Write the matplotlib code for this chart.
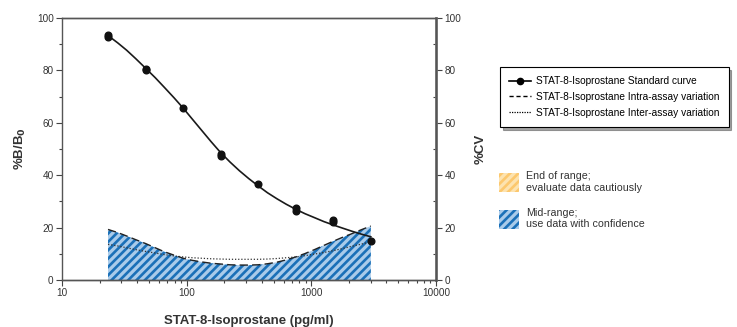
import matplotlib
matplotlib.use("Agg")
import matplotlib.pyplot as plt
import matplotlib.patches as mpatches
from matplotlib.lines import Line2D
from matplotlib.ticker import MultipleLocator, LogLocator, NullFormatter

plt.rcParams['font.family'] = ['Liberation Sans', 'DejaVu Sans']
plt.rcParams['hatch.linewidth'] = 1.9

# standard points (duplicates)
std_x = [23.4, 23.4, 46.9, 46.9, 93.8, 187.5, 187.5, 375, 750, 750, 1500, 1500, 3000]
std_y = [93.6, 92.8, 80.7, 80.3, 65.8, 48.2, 47.2, 36.5, 27.6, 26.4, 23.0, 22.0, 15.0]

# fitted standard curve and %CV curves
curve_x = [23.4, 28, 33, 39, 46.9, 56, 66, 79, 93.8, 111, 132, 157, 187.5, 223, 265,
           315, 375, 445, 530, 630, 750, 890, 1060, 1260, 1500, 1780, 2120, 2520, 3000]
curve_y = [93.3, 90.5, 87.7, 84.5, 80.8, 77.2, 73.6, 69.6, 65.6, 61.4, 57.1, 52.8, 48.6,
           45.0, 41.7, 38.7, 35.9, 33.3, 31.0, 28.9, 27.0, 25.3, 23.8, 22.3, 21.0, 19.8,
           18.6, 17.5, 16.5]
intra_cv = [19.3, 18.1, 16.8, 15.4, 13.9, 12.3, 10.8, 9.5, 8.3, 7.5, 6.9, 6.4, 6.1, 5.8,
            5.7, 5.7, 5.8, 6.2, 6.8, 7.7, 8.8, 10.1, 11.6, 13.2, 14.8, 16.3, 17.7, 19.2, 20.6]
inter_cv = [13.6, 13.0, 12.3, 11.6, 10.9, 10.3, 9.7, 9.2, 8.8, 8.5, 8.3, 8.1, 8.0, 7.9,
            7.9, 7.9, 7.9, 8.0, 8.2, 8.5, 8.8, 9.3, 9.9, 10.5, 11.2, 12.0, 12.9, 13.7, 14.6]

fig = plt.figure(figsize=(7.37, 3.27), dpi=100)
ax = fig.add_axes([62/737, 1-280/327, 374/737, 262/327])
ax2 = ax.twinx()

# shaded mid-range area under the intra-assay curve
ax2.fill_between(curve_x, 0, intra_cv, facecolor='#a9cbea', edgecolor='#1a70b8',
                 hatch='////', linewidth=0, zorder=1)
ax2.plot(curve_x, intra_cv, color='#222222', lw=1.0, ls=(0, (6, 3)), zorder=3)
ax2.plot(curve_x, inter_cv, color='#333333', lw=0.9, ls=(0, (1, 1.5)), zorder=3)

ax.plot(curve_x, curve_y, color='#1a1a1a', lw=1.2, zorder=4)
ax.plot(std_x, std_y, 'o', color='#111111', ms=4.8, zorder=5)
ax.set_zorder(ax2.get_zorder() + 1)
ax.patch.set_visible(False)

ax.set_xscale('log')
ax.set_xlim(10, 10000)
ax.set_ylim(0, 100)
ax2.set_ylim(0, 100)
ax.xaxis.set_minor_locator(LogLocator(base=10, subs=range(2, 10)))
ax.xaxis.set_minor_formatter(NullFormatter())
ax.set_xticks([10, 100, 1000, 10000])
ax.set_xticklabels(['10', '100', '1000', '10000'])
for a in (ax, ax2):
    a.yaxis.set_major_locator(MultipleLocator(20))
    a.yaxis.set_minor_locator(MultipleLocator(10))
    a.tick_params(axis='both', which='major', labelsize=7.2, length=4, width=0.8,
                  color='#444444', labelcolor='#333333', pad=2)
    a.tick_params(axis='both', which='minor', length=2, width=0.8, color='#444444')
    for s in a.spines.values():
        s.set_color('#555555')
        s.set_linewidth(1.0)
ax2.spines['right'].set_linewidth(2.0)
ax2.spines['right'].set_color('#707070')
ax2.spines['left'].set_visible(False)
ax2.tick_params(axis='y', which='minor', direction='in')

ax.set_xlabel('STAT-8-Isoprostane (pg/ml)', fontsize=9.5, fontweight='bold',
              color='#333333', labelpad=12)
ax.set_ylabel('%B/B$_\\mathbf{0}$', fontsize=9.5, fontweight='bold', color='#333333',
              labelpad=6)
ax2.set_ylabel('%CV', fontsize=9.5, fontweight='bold', color='#333333', labelpad=10)

# line legend
handles = [
    Line2D([], [], color='black', lw=1.2, marker='o', ms=4.5),
    Line2D([], [], color='black', lw=1.0, ls=(0, (3, 2))),
    Line2D([], [], color='black', lw=0.9, ls=(0, (1, 1))),
]
labels = ['STAT-8-Isoprostane Standard curve',
          'STAT-8-Isoprostane Intra-assay variation',
          'STAT-8-Isoprostane Inter-assay variation']
leg = fig.legend(handles, labels, loc='upper left',
                 bbox_to_anchor=(500/737, 1-67/327), fontsize=7.3,
                 frameon=True, fancybox=False, shadow=True, edgecolor='black',
                 handlelength=2.2, handletextpad=0.45, labelspacing=0.57,
                 borderpad=0.9, borderaxespad=0)
leg.get_frame().set_linewidth(0.8)

# range legend
range_handles = [
    mpatches.Patch(facecolor='#fde3b0', edgecolor='#fcc86e', hatch='////', lw=0),
    mpatches.Patch(facecolor='#a9cbea', edgecolor='#1a70b8', hatch='////', lw=0),
]
range_labels = ['End of range;\nevaluate data cautiously',
                'Mid-range;\nuse data with confidence']
leg2 = fig.legend(range_handles, range_labels, loc='upper left',
                  bbox_to_anchor=(495/737, 1-167/327), fontsize=7.7,
                  frameon=False, handlelength=1.8, handleheight=2.4,
                  handletextpad=0.7, labelspacing=1.4, borderaxespad=0)
for t in leg2.get_texts():
    t.set_color('#333333')

fig.savefig('out.png', dpi=100)
